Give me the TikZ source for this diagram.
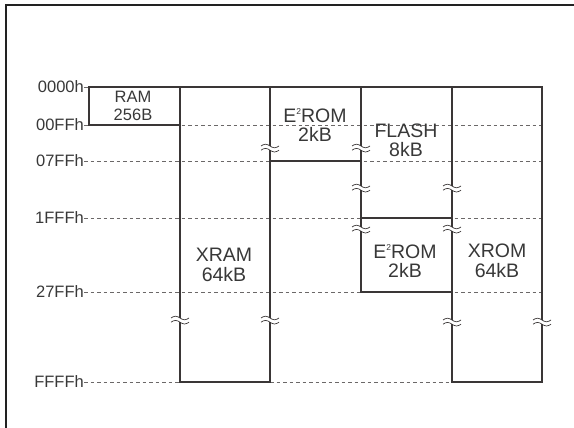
\documentclass[tikz,border=0pt]{standalone}
\usepackage{fontspec}
\setmainfont{Liberation Sans}
\usetikzlibrary{calc}

\definecolor{linegray}{RGB}{58,54,54}
\definecolor{txtgray}{RGB}{56,56,56}
\definecolor{framegray}{RGB}{34,34,34}

\begin{document}
\begin{tikzpicture}[x=1pt,y=-1pt,
    memline/.style={draw=linegray, line width=1.4pt},
    addrline/.style={draw=linegray!75, line width=0.7pt, dash pattern=on 3.5pt off 3pt},
    addr/.style={anchor=east, inner sep=0pt, text=txtgray, font=\fontsize{16.5}{17}\selectfont},
    blk/.style={align=center, inner sep=0pt, text=txtgray, font=\fontsize{19.5}{19.5}\selectfont},
    brkmark/.pic={
        \fill[white] (-9,-1.6) rectangle (9,1.6);
        \draw[linegray, line width=0.7pt] (-9,-2) sin (-4.5,-3.8) cos (0,-2) sin (4.5,-0.2) cos (9,-2);
        \draw[linegray, line width=0.7pt] (-9,2.2) sin (-4.5,0.4) cos (0,2.2) sin (4.5,4) cos (9,2.2);
    }]
    \useasboundingbox (0,0) rectangle (574,428);

    %frame
        \draw[framegray, line width=2pt] (5.5,428) -- (5.5,5.5) -- (574,5.5);

    %mark block corners
        \coordinate[] (ramTL) at (89,87);
        \coordinate[] (ramBR) at (180,125);
        \coordinate[] (xramTL) at (180,87);
        \coordinate[] (xramBR) at (270,382);
        \coordinate[] (eeaTL) at (270,87);
        \coordinate[] (eeaBR) at (361,161);
        \coordinate[] (flashTL) at (361,87);
        \coordinate[] (flashBR) at (452,218);
        \coordinate[] (eebTL) at (361,218);
        \coordinate[] (eebBR) at (452,292);
        \coordinate[] (xromTL) at (452,87);
        \coordinate[] (xromBR) at (542,382);

    %address labels
        \node[addr] (h0000) at (84,87) {0000h};
        \node[addr] (h00FF) at (84,125) {00FFh};
        \node[addr] (h07FF) at (84,161) {07FFh};
        \node[addr] (h1FFF) at (84,218) {1FFFh};
        \node[addr] (h27FF) at (84,292) {27FFh};
        \node[addr] (hFFFF) at (84,382) {FFFFh};

    %dashed address lines
        \draw[addrline] (h0000.east) -- (ramTL);
        \draw[addrline] (h00FF.east) -- (h00FF.east -| xromBR);
        \draw[addrline] (h07FF.east) -- (h07FF.east -| xromBR);
        \draw[addrline] (h1FFF.east) -- (h1FFF.east -| xromBR);
        \draw[addrline] (h27FF.east) -- (h27FF.east -| xromBR);
        \draw[addrline] (hFFFF.east) -- (xramTL |- xramBR);
        \draw[addrline] (xramBR) -- (xromTL |- xromBR);

    %draw memory blocks
        \draw[memline] (ramTL) rectangle (ramBR);
        \draw[memline] (xramTL) rectangle (xramBR);
        \draw[memline] (eeaTL) rectangle (eeaBR);
        \draw[memline] (flashTL) rectangle (flashBR);
        \draw[memline] (eebTL) rectangle (eebBR);
        \draw[memline] (xromTL) rectangle (xromBR);

    %break marks
        \pic at (270,148) {brkmark};
        \pic at (361,148) {brkmark};
        \pic at (361,188) {brkmark};
        \pic at (452,188) {brkmark};
        \pic at (361,229) {brkmark};
        \pic at (452,229) {brkmark};
        \pic at (180,320) {brkmark};
        \pic at (270,320) {brkmark};
        \pic at (452,322) {brkmark};
        \pic at (542,322) {brkmark};

    %block names
        \node[blk, font=\fontsize{16.5}{18.5}\selectfont] (ram) at (133,106) {RAM\\256B};
        \node[blk] (xram) at (224,265) {XRAM\\64kB};
        \node[blk] (eea) at (315,125) {E\raisebox{7.5pt}{\fontsize{8.5}{8.5}\selectfont 2}ROM\\2kB};
        \node[blk] (flash) at (406,140.5) {FLASH\\8kB};
        \node[blk] (eeb) at (405,261) {E\raisebox{7.5pt}{\fontsize{8.5}{8.5}\selectfont 2}ROM\\2kB};
        \node[blk] (xrom) at (497,261) {XROM\\64kB};

\end{tikzpicture}
\end{document}
